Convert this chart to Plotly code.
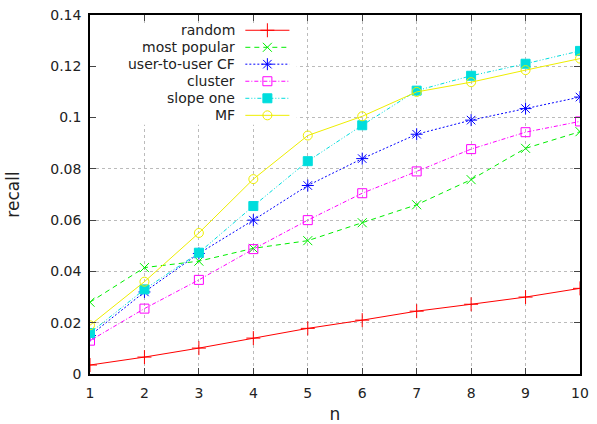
import plotly.graph_objects as go

n = [1, 2, 3, 4, 5, 6, 7, 8, 9, 10]
random_r = [0.0035, 0.0066, 0.0101, 0.0140, 0.0178, 0.0210, 0.0245, 0.0272, 0.0300, 0.0334]
most_popular = [0.028, 0.0415, 0.044, 0.049, 0.052, 0.059, 0.066, 0.0758, 0.088, 0.0945]
user_cf = [0.015, 0.032, 0.047, 0.060, 0.0735, 0.084, 0.0935, 0.099, 0.1035, 0.108]
cluster = [0.013, 0.0255, 0.0367, 0.0487, 0.060, 0.0705, 0.079, 0.0877, 0.0943, 0.0985]
slope_one = [0.016, 0.033, 0.0473, 0.0655, 0.083, 0.097, 0.1105, 0.1163, 0.121, 0.126]
mf = [0.019, 0.036, 0.055, 0.076, 0.093, 0.1005, 0.110, 0.1138, 0.1185, 0.123]

names = ["random", "most popular", "user-to-user CF", "cluster", "slope one", "MF"]
series = [random_r, most_popular, user_cf, cluster, slope_one, mf]
colors = ["#ff0000", "#00ee00", "#0000ff", "#ff00ff", "#00dddd", "#eeee00"]
dashes = ["solid", "5px,4px", "2px,2px", "4px,2px,1px,2px", "4px,2px,1px,2px,1px,2px", "solid"]
symbols = ["cross-thin", "x-thin", "asterisk", "square-open", "square", "circle-open"]
msizes = [10, 9, 10, 9, 9, 9]

yticks = [0, 0.02, 0.04, 0.06, 0.08, 0.1, 0.12, 0.14]
yticktext = ["0", "0.02", "0.04", "0.06", "0.08", "0.1", "0.12", "0.14"]

fig = go.Figure()
font = dict(family="DejaVu Sans", size=14, color="#222222")

for nm, ys, c, d, s, ms in zip(names, series, colors, dashes, symbols, msizes):
    fig.add_trace(go.Scatter(
        x=n, y=ys, mode="lines+markers", name=nm, showlegend=False,
        line=dict(color=c, width=1, dash=d),
        marker=dict(symbol=s, size=ms, color=c, line=dict(color=c, width=1)),
    ))

# white key background (hides the grid under the key), on overlay axes
kx0, kx1, ky0, ky1 = 0.004, 0.422, 0.694, 0.978
fig.add_trace(go.Scatter(
    x=[kx0, kx1, kx1, kx0, kx0], y=[ky0, ky0, ky1, ky1, ky0], xaxis="x2", yaxis="y2",
    mode="lines", fill="toself", fillcolor="white", line=dict(width=0, color="white"),
    showlegend=False, hoverinfo="skip",
))

# custom gnuplot-style key: text right-aligned, sample to the right
rows_y = [0.9575, 0.91, 0.863, 0.8155, 0.768, 0.7205]
for i, (nm, c, d, s, ms) in enumerate(zip(names, colors, dashes, symbols, msizes)):
    fig.add_trace(go.Scatter(
        x=[0.317, 0.362, 0.407], y=[rows_y[i]] * 3, xaxis="x2", yaxis="y2",
        mode="lines", showlegend=False, hoverinfo="skip",
        line=dict(color=c, width=1, dash=d),
    ))
    fig.add_trace(go.Scatter(
        x=[0.362], y=[rows_y[i]], xaxis="x2", yaxis="y2",
        mode="markers", showlegend=False, hoverinfo="skip",
        marker=dict(symbol=s, size=ms, color=c, line=dict(color=c, width=1)),
    ))
    fig.add_annotation(x=0.301, y=rows_y[i], xref="x2", yref="y2", text=nm,
                       showarrow=False, xanchor="right", yanchor="middle",
                       font=dict(family="DejaVu Sans", size=14, color="#222222"))

fig.update_layout(
    width=597, height=424,
    margin=dict(l=90, r=17, t=15, b=50),
    paper_bgcolor="white", plot_bgcolor="white",
    font=font,
    xaxis=dict(range=[1, 10], tickvals=n, ticks="inside", ticklen=6, tickcolor="#444",
               showline=True, linecolor="black", linewidth=1.5, mirror="ticks",
               showgrid=True, gridcolor="#bbbbbb", griddash="dot", gridwidth=1,
               zeroline=False, title=dict(text="n", standoff=20), automargin=False,
               ticklabelstandoff=5, tickfont=dict(size=14)),
    yaxis=dict(range=[0, 0.14], tickvals=yticks, ticktext=yticktext, ticks="inside",
               ticklen=6, tickcolor="#444",
               showline=True, linecolor="black", linewidth=1.5, mirror="ticks",
               showgrid=True, gridcolor="#bbbbbb", griddash="dot", gridwidth=1,
               zeroline=False, title=dict(text="recall", standoff=26), automargin=False,
               ticklabelstandoff=4, tickfont=dict(size=14)),
    xaxis2=dict(overlaying="x", range=[0, 1], visible=False, fixedrange=True),
    yaxis2=dict(overlaying="y", range=[0, 1], visible=False, fixedrange=True),
)

fig.write_html("out.html")
